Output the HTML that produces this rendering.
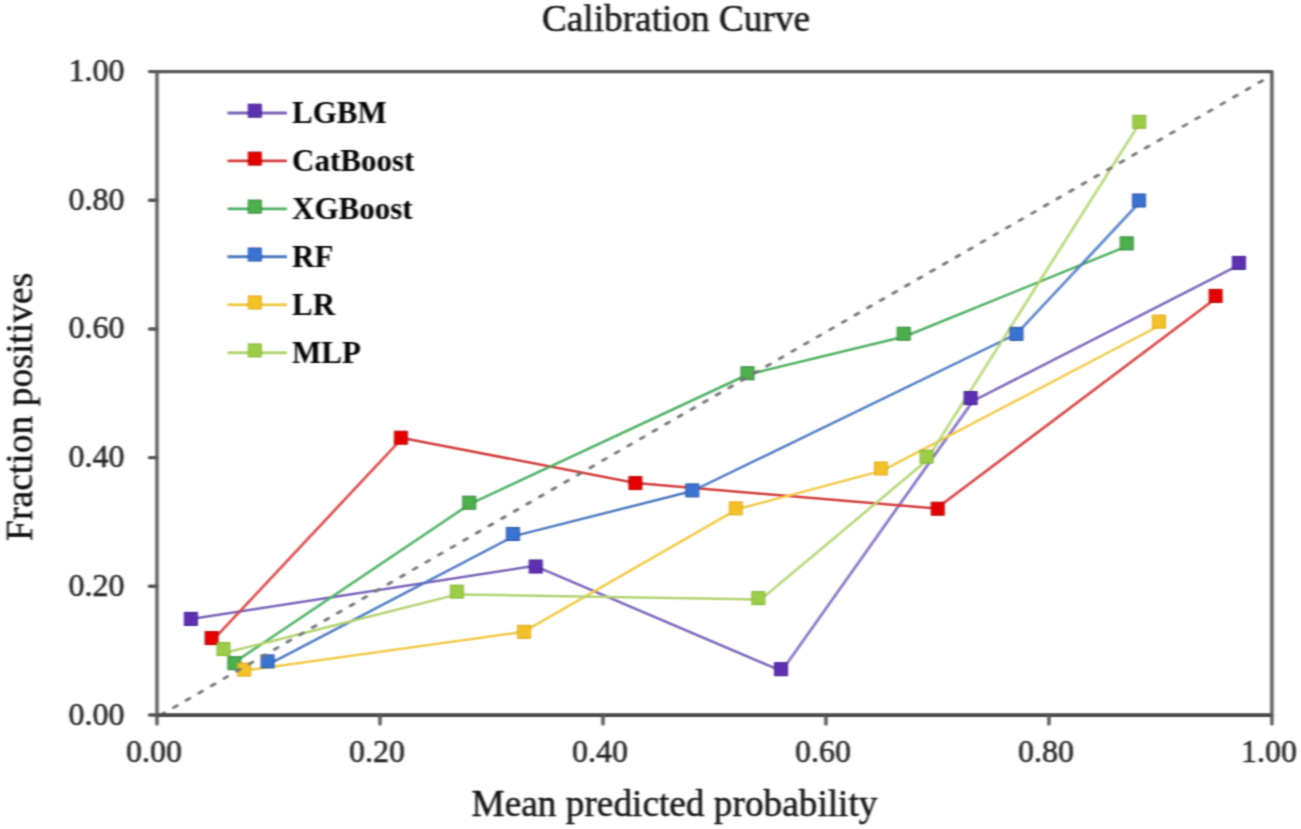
<!DOCTYPE html><html><head><meta charset="utf-8"><style>html,body{margin:0;padding:0;background:#fff;width:1301px;height:829px;overflow:hidden}svg{display:block}text{font-family:"Liberation Serif",serif}.r{stroke:#111;stroke-width:0.45px}.t{stroke:#222;stroke-width:0.5px}</style></head><body>
<svg width="1301" height="829" viewBox="0 0 1301 829">
<defs><filter id="bl" x="0" y="0" width="1301" height="829" filterUnits="userSpaceOnUse" color-interpolation-filters="sRGB"><feConvolveMatrix order="7 5" kernelMatrix="0.00008 0.00067 0.00231 0.00349 0.00231 0.00067 0.00008 0.00181 0.01428 0.04933 0.07458 0.04933 0.01428 0.00181 0.00502 0.03962 0.13687 0.20690 0.13687 0.03962 0.00502 0.00181 0.01428 0.04933 0.07458 0.04933 0.01428 0.00181 0.00008 0.00067 0.00231 0.00349 0.00231 0.00067 0.00008" divisor="1" edgeMode="duplicate"/></filter></defs>
<g filter="url(#bl)">
<rect width="1301" height="829" fill="#fff"/>
<text transform="translate(676,31) scale(1,1.035)" x="0" y="0" font-size="37.3" text-anchor="middle" fill="#111" class="r">Calibration Curve</text>
<polyline points="190.9,619.1 534.7,565.8 781.6,671.1 973.0,401.0 1239.8,264.7" fill="none" stroke="#7a62b8" stroke-width="2.5" stroke-linejoin="round"/>
<polyline points="213.3,639.7 402.4,438.0 635.6,483.1 936.4,508.5 1216.9,297.6" fill="none" stroke="#d23c3c" stroke-width="2.5" stroke-linejoin="round"/>
<polyline points="234.0,662.6 470.3,503.8 747.8,374.5 904.7,336.5 1127.7,245.9" fill="none" stroke="#4eae62" stroke-width="2.5" stroke-linejoin="round"/>
<polyline points="269.0,664.2 513.9,536.1 692.5,491.0 1016.4,334.0 1140.3,201.7" fill="none" stroke="#4a78c0" stroke-width="2.5" stroke-linejoin="round"/>
<polyline points="244.4,670.6 523.5,631.8 736.9,509.3 882.4,470.6 1160.8,325.0" fill="none" stroke="#f0c848" stroke-width="2.5" stroke-linejoin="round"/>
<polyline points="224.5,653.0 457.6,594.4 761.0,599.4 925.9,461.2 1140.1,122.3" fill="none" stroke="#b0d270" stroke-width="2.5" stroke-linejoin="round"/>
<rect x="184.4" y="612.4" width="13" height="13" fill="#5e30b0" stroke="#3c1a88" stroke-width="1"/>
<rect x="529.2" y="560.0" width="13" height="13" fill="#5e30b0" stroke="#3c1a88" stroke-width="1"/>
<rect x="774.5" y="662.7" width="13" height="13" fill="#5e30b0" stroke="#3c1a88" stroke-width="1"/>
<rect x="964.1" y="391.6" width="13" height="13" fill="#5e30b0" stroke="#3c1a88" stroke-width="1"/>
<rect x="1232.4" y="256.4" width="13" height="13" fill="#5e30b0" stroke="#3c1a88" stroke-width="1"/>
<rect x="205.1" y="631.6" width="13" height="13" fill="#e20000" stroke="#b00000" stroke-width="1"/>
<rect x="394.4" y="431.2" width="13" height="13" fill="#e20000" stroke="#b00000" stroke-width="1"/>
<rect x="628.9" y="476.6" width="13" height="13" fill="#e20000" stroke="#b00000" stroke-width="1"/>
<rect x="931.2" y="502.2" width="13" height="13" fill="#e20000" stroke="#b00000" stroke-width="1"/>
<rect x="1209.1" y="289.4" width="13" height="13" fill="#e20000" stroke="#b00000" stroke-width="1"/>
<rect x="227.9" y="656.7" width="13" height="13" fill="#4eae4e" stroke="#2e7e36" stroke-width="1"/>
<rect x="462.7" y="496.2" width="13" height="13" fill="#4eae4e" stroke="#2e7e36" stroke-width="1"/>
<rect x="741.0" y="366.8" width="13" height="13" fill="#4eae4e" stroke="#2e7e36" stroke-width="1"/>
<rect x="897.2" y="327.2" width="13" height="13" fill="#4eae4e" stroke="#2e7e36" stroke-width="1"/>
<rect x="1120.2" y="236.9" width="13" height="13" fill="#4eae4e" stroke="#2e7e36" stroke-width="1"/>
<rect x="261.1" y="654.9" width="13" height="13" fill="#3a72d0" stroke="#24509a" stroke-width="1"/>
<rect x="506.4" y="527.5" width="13" height="13" fill="#3a72d0" stroke="#24509a" stroke-width="1"/>
<rect x="685.8" y="483.9" width="13" height="13" fill="#3a72d0" stroke="#24509a" stroke-width="1"/>
<rect x="1010.0" y="327.4" width="13" height="13" fill="#3a72d0" stroke="#24509a" stroke-width="1"/>
<rect x="1132.5" y="194.0" width="13" height="13" fill="#3a72d0" stroke="#24509a" stroke-width="1"/>
<rect x="237.8" y="663.1" width="13" height="13" fill="#f2c02a" stroke="#dca418" stroke-width="1"/>
<rect x="517.6" y="625.3" width="13" height="13" fill="#f2c02a" stroke="#dca418" stroke-width="1"/>
<rect x="729.3" y="501.9" width="13" height="13" fill="#f2c02a" stroke="#dca418" stroke-width="1"/>
<rect x="874.5" y="462.0" width="13" height="13" fill="#f2c02a" stroke="#dca418" stroke-width="1"/>
<rect x="1152.5" y="315.1" width="13" height="13" fill="#f2c02a" stroke="#dca418" stroke-width="1"/>
<rect x="217.0" y="642.6" width="13" height="13" fill="#9ccc48" stroke="#80b038" stroke-width="1"/>
<rect x="450.4" y="585.1" width="13" height="13" fill="#9ccc48" stroke="#80b038" stroke-width="1"/>
<rect x="751.9" y="591.6" width="13" height="13" fill="#9ccc48" stroke="#80b038" stroke-width="1"/>
<rect x="920.1" y="450.1" width="13" height="13" fill="#9ccc48" stroke="#80b038" stroke-width="1"/>
<rect x="1132.8" y="115.3" width="13" height="13" fill="#9ccc48" stroke="#80b038" stroke-width="1"/>
<line x1="157.5" y1="716.85" x2="1271.9" y2="75.2" stroke="#727272" stroke-width="2.8" stroke-dasharray="6.5 8.063" stroke-dashoffset="11.83"/>
<rect x="157.0" y="71.6" width="1114.9" height="643.4" fill="none" stroke="#555555" stroke-width="3.3" stroke-linejoin="round"/>
<line x1="157.0" y1="715.3" x2="1271.9" y2="715.3" stroke="#474747" stroke-width="3.3"/>
<line x1="149.5" y1="715.0" x2="157.0" y2="715.0" stroke="#555555" stroke-width="3.4" stroke-linecap="round"/>
<line x1="157.0" y1="715.0" x2="157.0" y2="724.0" stroke="#555555" stroke-width="3.4" stroke-linecap="round"/>
<text x="124.5" y="724.5" font-size="32" text-anchor="end" fill="#222" class="t">0.00</text>
<text x="154.0" y="762" font-size="32" text-anchor="middle" fill="#222" class="t">0.00</text>
<line x1="149.5" y1="586.3199999999999" x2="157.0" y2="586.3199999999999" stroke="#555555" stroke-width="3.4" stroke-linecap="round"/>
<line x1="379.98" y1="715.0" x2="379.98" y2="724.0" stroke="#555555" stroke-width="3.4" stroke-linecap="round"/>
<text x="124.5" y="595.8199999999999" font-size="32" text-anchor="end" fill="#222" class="t">0.20</text>
<text x="376.98" y="762" font-size="32" text-anchor="middle" fill="#222" class="t">0.20</text>
<line x1="149.5" y1="457.64" x2="157.0" y2="457.64" stroke="#555555" stroke-width="3.4" stroke-linecap="round"/>
<line x1="602.96" y1="715.0" x2="602.96" y2="724.0" stroke="#555555" stroke-width="3.4" stroke-linecap="round"/>
<text x="124.5" y="467.14" font-size="32" text-anchor="end" fill="#222" class="t">0.40</text>
<text x="599.96" y="762" font-size="32" text-anchor="middle" fill="#222" class="t">0.40</text>
<line x1="149.5" y1="328.96" x2="157.0" y2="328.96" stroke="#555555" stroke-width="3.4" stroke-linecap="round"/>
<line x1="825.9400000000002" y1="715.0" x2="825.9400000000002" y2="724.0" stroke="#555555" stroke-width="3.4" stroke-linecap="round"/>
<text x="124.5" y="338.46" font-size="32" text-anchor="end" fill="#222" class="t">0.60</text>
<text x="822.9400000000002" y="762" font-size="32" text-anchor="middle" fill="#222" class="t">0.60</text>
<line x1="149.5" y1="200.27999999999997" x2="157.0" y2="200.27999999999997" stroke="#555555" stroke-width="3.4" stroke-linecap="round"/>
<line x1="1048.92" y1="715.0" x2="1048.92" y2="724.0" stroke="#555555" stroke-width="3.4" stroke-linecap="round"/>
<text x="124.5" y="209.77999999999997" font-size="32" text-anchor="end" fill="#222" class="t">0.80</text>
<text x="1045.92" y="762" font-size="32" text-anchor="middle" fill="#222" class="t">0.80</text>
<line x1="149.5" y1="71.60000000000002" x2="157.0" y2="71.60000000000002" stroke="#555555" stroke-width="3.4" stroke-linecap="round"/>
<line x1="1271.9" y1="715.0" x2="1271.9" y2="724.0" stroke="#555555" stroke-width="3.4" stroke-linecap="round"/>
<text x="124.5" y="81.10000000000002" font-size="32" text-anchor="end" fill="#222" class="t">1.00</text>
<text x="1268.9" y="762" font-size="32" text-anchor="middle" fill="#222" class="t">1.00</text>
<text transform="translate(674.5,815.5) scale(1,1.03)" x="0" y="0" font-size="37.3" text-anchor="middle" fill="#111" class="r">Mean predicted probability</text>
<text transform="translate(32,406.8) rotate(-90) scale(1,1.02)" x="0" y="0" font-size="37.6" text-anchor="middle" fill="#111" class="r">Fraction positives</text>
<line x1="227.5" y1="113.0" x2="287" y2="113.0" stroke="#7a62b8" stroke-width="2.9"/>
<rect x="248.3" y="104.2" width="13" height="13" fill="#5e30b0" stroke="#3c1a88" stroke-width="1"/>
<text x="292" y="123.0" font-size="31" font-weight="bold" fill="#000">LGBM</text>
<line x1="227.5" y1="160.9" x2="287" y2="160.9" stroke="#d23c3c" stroke-width="2.9"/>
<rect x="248.3" y="152.1" width="13" height="13" fill="#e20000" stroke="#b00000" stroke-width="1"/>
<text x="292" y="170.9" font-size="31" font-weight="bold" fill="#000">CatBoost</text>
<line x1="227.5" y1="208.9" x2="287" y2="208.9" stroke="#4eae62" stroke-width="2.9"/>
<rect x="248.3" y="200.1" width="13" height="13" fill="#4eae4e" stroke="#2e7e36" stroke-width="1"/>
<text x="292" y="218.9" font-size="31" font-weight="bold" fill="#000">XGBoost</text>
<line x1="227.5" y1="256.8" x2="287" y2="256.8" stroke="#4a78c0" stroke-width="2.9"/>
<rect x="248.3" y="248.0" width="13" height="13" fill="#3a72d0" stroke="#24509a" stroke-width="1"/>
<text x="292" y="266.8" font-size="31" font-weight="bold" fill="#000">RF</text>
<line x1="227.5" y1="304.8" x2="287" y2="304.8" stroke="#f0c848" stroke-width="2.9"/>
<rect x="248.3" y="296.0" width="13" height="13" fill="#f2c02a" stroke="#dca418" stroke-width="1"/>
<text x="292" y="314.8" font-size="31" font-weight="bold" fill="#000">LR</text>
<line x1="227.5" y1="352.7" x2="287" y2="352.7" stroke="#b0d270" stroke-width="2.9"/>
<rect x="248.3" y="343.9" width="13" height="13" fill="#9ccc48" stroke="#80b038" stroke-width="1"/>
<text x="292" y="362.7" font-size="31" font-weight="bold" fill="#000">MLP</text>
</g></svg></body></html>
